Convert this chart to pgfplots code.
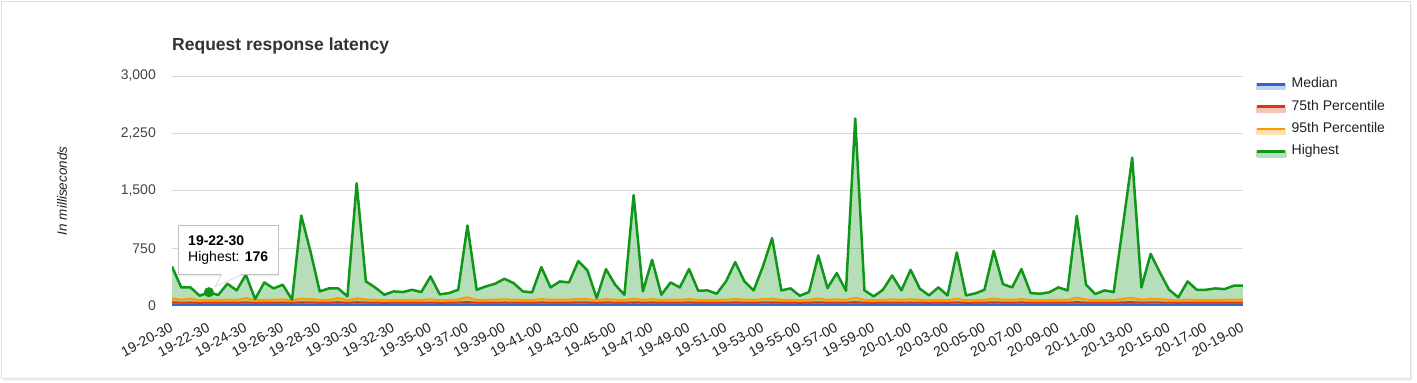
\documentclass[border=0pt]{standalone}
\usepackage{fontspec}
\setmainfont{Liberation Sans}
\usepackage{pgfplots}
\usepackage{pgfplotstable}
\pgfplotsset{compat=1.18}
\usetikzlibrary{shadows}
\definecolor{gmed}{HTML}{3366CC}
\definecolor{gsev}{HTML}{DC3912}
\definecolor{gnin}{HTML}{FF9900}
\definecolor{ghigh}{HTML}{109618}
\definecolor{gridc}{HTML}{D9D9D9}
\definecolor{txt}{HTML}{222222}
\definecolor{ytxt}{HTML}{444444}

\pgfplotstableread{
i med p75 p95 high
0 15 45 95 512
1 14 40 78 239
2 15 42 92 239
3 13 38 72 130
4 14 40 76 176
5 14 39 74 139
6 15 41 80 287
7 14 40 75 200
8 16 44 98 404
9 13 38 70 87
10 14 40 76 304
11 14 41 79 226
12 15 42 82 274
13 13 38 70 78
14 16 45 92 1177
15 15 43 88 708
16 14 40 76 187
17 14 40 75 226
18 16 46 100 226
19 13 38 72 122
20 16 46 95 1598
21 15 42 82 317
22 14 40 78 239
23 13 38 72 143
24 14 39 75 187
25 14 40 76 178
26 14 40 78 208
27 14 39 74 178
28 15 42 84 382
29 13 38 72 148
30 14 39 74 165
31 15 42 82 208
32 17 48 110 1047
33 14 40 76 208
34 14 40 77 252
35 15 41 80 287
36 15 42 82 352
37 15 41 80 295
38 14 40 76 187
39 14 39 74 174
40 15 43 86 504
41 14 40 78 239
42 15 41 80 317
43 14 41 79 304
44 15 44 88 582
45 15 43 85 460
46 13 38 70 100
47 15 43 86 478
48 14 41 79 274
49 14 39 73 143
50 16 45 92 1446
51 14 40 76 187
52 15 43 88 599
53 14 39 73 143
54 14 41 79 304
55 14 40 77 239
56 15 43 86 478
57 14 40 76 195
58 14 40 76 200
59 14 39 74 156
60 15 41 80 317
61 15 43 87 569
62 15 41 80 317
63 14 40 76 200
64 15 43 86 512
65 16 45 92 882
66 14 40 76 200
67 14 40 77 226
68 13 38 72 130
69 14 40 75 178
70 16 45 96 656
71 14 40 77 230
72 15 42 84 426
73 14 40 76 195
74 17 47 105 2445
75 14 40 76 200
76 13 38 72 122
77 14 40 76 208
78 15 42 84 395
79 14 40 76 200
80 15 42 85 469
81 14 40 77 221
82 13 38 72 135
83 14 40 78 239
84 13 38 72 135
85 15 44 90 695
86 13 38 72 135
87 14 39 74 160
88 14 40 76 208
89 16 45 92 717
90 15 41 80 282
91 14 40 78 239
92 15 43 86 478
93 14 39 74 165
94 14 39 73 156
95 14 39 74 174
96 14 40 78 239
97 14 40 76 200
98 17 47 105 1173
99 15 41 80 274
100 14 39 73 152
101 14 40 76 200
102 14 39 75 178
103 16 44 90 1050
104 17 47 102 1933
105 14 40 78 239
106 15 44 90 677
107 15 42 85 434
108 14 40 76 208
109 13 38 70 109
110 15 41 80 317
111 14 40 76 208
112 14 40 76 208
113 14 40 77 226
114 14 40 77 217
115 15 41 80 261
116 15 41 80 261
}\data

\pgfplotsset{
  legimg/.style={legend image code/.code={
    \fill[#1!30] (0pt,-5pt) rectangle (28pt,0pt);
    \draw[#1, line width=2.5pt] (0pt,0pt) -- (28pt,0pt);}},
  areafill/.style={draw=none, fill=#1, fill opacity=0.3, forget plot},
}

\begin{document}
\begin{tikzpicture}
\useasboundingbox (0pt,0pt) rectangle (1417pt,-383pt);
\fill[black!5] (3pt,-4pt) rectangle (1412pt,-381pt);
\fill[white, draw=black!12] (1.5pt,-1.5pt) rectangle (1410pt,-378pt);
\begin{axis}[
  at={(172pt,-305.7pt)}, anchor=south west,
  scale only axis, width=1071pt, height=229.7pt,
  xmin=0, xmax=116, ymin=0, ymax=3000,
  axis line style={draw=none},
  major tick length=0pt,
  ymajorgrids, grid style={gridc, line width=1pt},
  ytick={0,750,1500,2250,3000},
  /pgf/number format/assume math mode=true,
  /pgf/number format/1000 sep={,},
  yticklabel style={font=\fontsize{14}{16}\selectfont, text=ytxt, anchor=east, inner sep=0pt, xshift=-16pt},
  xtick={0,4,...,116},
  xticklabels={19-20-30,19-22-30,19-24-30,19-26-30,19-28-30,19-30-30,19-32-30,19-35-00,19-37-00,19-39-00,19-41-00,19-43-00,19-45-00,19-47-00,19-49-00,19-51-00,19-53-00,19-55-00,19-57-00,19-59-00,20-01-00,20-03-00,20-05-00,20-07-00,20-09-00,20-11-00,20-13-00,20-15-00,20-17-00,20-19-00},
  xticklabel style={font=\fontsize{14}{16}\selectfont, text=txt, rotate=28, anchor=north east, inner sep=0pt, xshift=-10pt, yshift=-13pt},
  title={Request response latency},
  title style={at={(axis description cs:0,1.106)}, anchor=west, inner sep=0pt, font=\bfseries\fontsize{17.5}{20}\selectfont, text=black!80},
  ylabel={In milliseconds},
  ylabel style={at={(axis description cs:-0.1027,0.5)}, anchor=center, font=\itshape\fontsize{13.5}{16}\selectfont, text=txt},
  legend style={at={(axis description cs:1.0121,0.9926)}, anchor=north west, draw=none, fill=none, inner sep=0pt,
    font=\fontsize{14}{16}\selectfont, text=txt,
    nodes={inner xsep=5pt, inner ysep=0pt, text height=10pt, text depth=3pt},
    row sep=9.3pt},
  legend cell align=left,
]
\addplot[areafill=gmed] table[x=i,y=med]{\data} \closedcycle;
\addplot[areafill=gsev] table[x=i,y=p75]{\data} \closedcycle;
\addplot[areafill=gnin] table[x=i,y=p95]{\data} \closedcycle;
\addplot[areafill=ghigh] table[x=i,y=high]{\data} \closedcycle;
\draw[black!55, line width=0.8pt] (rel axis cs:0,0) -- (rel axis cs:1,0);
\addplot[gmed, line width=2pt, line join=round, legimg=gmed] table[x=i,y=med]{\data};
\addlegendentry{Median}
\addplot[gsev, line width=2pt, line join=round, legimg=gsev] table[x=i,y=p75]{\data};
\addlegendentry{75th Percentile}
\addplot[gnin, line width=2pt, line join=round, legimg=gnin] table[x=i,y=p95]{\data};
\addlegendentry{95th Percentile}
\addplot[ghigh, line width=2.5pt, line join=round, legimg=ghigh] table[x=i,y=high]{\data};
\addlegendentry{Highest}
\addplot[only marks, mark=*, mark size=4.8pt, ghigh, forget plot] coordinates {(4,176)};
\node[draw=black!25, fill=white, anchor=north west, minimum width=99pt, minimum height=49pt,
  inner xsep=10pt, align=left, text=black, font=\fontsize{14}{16}\selectfont,
  drop shadow={opacity=0.15, shadow xshift=1pt, shadow yshift=-1.5pt}]
  at ([shift={(-30.9pt,67.2pt)}]axis cs:4,176) {\textbf{19-22-30}\\Highest: \textbf{176}};
\fill[white] ([shift={(12.8pt,18.8pt)}]axis cs:4,176) -- ([shift={(6.1pt,5.5pt)}]axis cs:4,176) -- ([shift={(34.1pt,18.8pt)}]axis cs:4,176) -- cycle;
\draw[black!25] ([shift={(12.8pt,18.2pt)}]axis cs:4,176) -- ([shift={(6.1pt,5.5pt)}]axis cs:4,176) -- ([shift={(34.1pt,18.2pt)}]axis cs:4,176);
\end{axis}
\end{tikzpicture}
\end{document}
